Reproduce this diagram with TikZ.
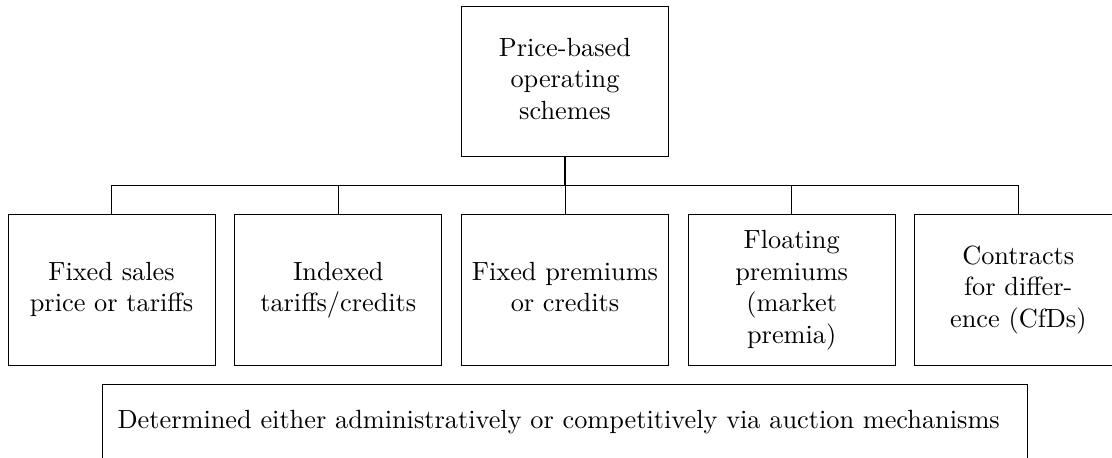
\documentclass[tikz,border=0pt]{standalone}
\usepackage{graphicx}
\newcommand\bt[1]{\scalebox{2.63}{\fontsize{10}{12}\selectfont\begin{tabular}{@{}c@{}}#1\end{tabular}}}
\begin{document}
\begin{tikzpicture}[x=1pt,y=-1pt,
  box/.style={draw,line width=0.8pt,minimum width=207pt,minimum height=151pt,align=center,inner sep=0pt},
  conn/.style={line width=0.8pt}]
\useasboundingbox (0,0) rectangle (1112,458);
\node[box,minimum height=150.7pt] (top) at (565,81.3) {\bt{Price-based\\operating\\schemes}};
\node[box] (b1) at (111.5,289.5) {\bt{Fixed sales\\price or tariffs}};
\node[box] (b2) at (338.3,289.5) {\bt{Indexed\\tariffs/credits}};
\node[box] (b3) at (565,289.5) {\bt{Fixed premiums\\or credits}};
\node[box] (b4) at (791.7,289.5) {\bt{Floating\\premiums\\(market\\premia)}};
\node[box] (b5) at (1018.3,289.5) {\bt{Contracts\\for differ-\\ence (CfDs)}};
\coordinate (bus) at (565,185.3);
\draw[line width=1.2pt] (top.south) -- (bus);
\foreach \b in {b1,b2,b3,b4,b5} \draw[conn] (\b.north) |- (bus);
\node[draw,line width=0.8pt,anchor=north,minimum width=925pt,inner xsep=0pt,inner ysep=0pt,
  text height=44.5pt,text depth=60pt] (det) at (565.2,384)
  {\bt{Determined either administratively or competitively via auction mechanisms}\hspace*{13pt}};
\end{tikzpicture}
\end{document}
